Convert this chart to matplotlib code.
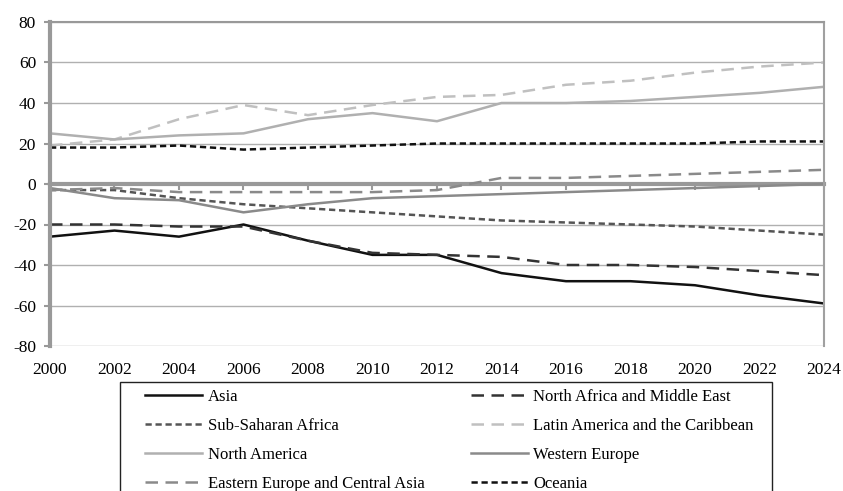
import matplotlib
matplotlib.use("Agg")
import matplotlib.pyplot as plt
from matplotlib.patches import Rectangle

plt.rcParams['font.family'] = ['Liberation Serif', 'DejaVu Serif']
plt.rcParams['axes.unicode_minus'] = False

years = [2000, 2002, 2004, 2006, 2008, 2010, 2012, 2014, 2016, 2018, 2020, 2022, 2024]

asia = [-26, -23, -26, -20, -28, -35, -35, -44, -48, -48, -50, -55, -59]
north_africa_me = [-20, -20, -21, -21, -28, -34, -35, -36, -40, -40, -41, -43, -45]
sub_saharan = [-3, -3, -7, -10, -12, -14, -16, -18, -19, -20, -21, -23, -25]
latin_america = [19, 22, 32, 39, 34, 39, 43, 44, 49, 51, 55, 58, 60]
north_america = [25, 22, 24, 25, 32, 35, 31, 40, 40, 41, 43, 45, 48]
western_europe = [-2, -7, -8, -14, -10, -7, -6, -5, -4, -3, -2, -1, 0]
eastern_europe = [-3, -2, -4, -4, -4, -4, -3, 3, 3, 4, 5, 6, 7]
oceania = [18, 18, 19, 17, 18, 19, 20, 20, 20, 20, 20, 21, 21]

fig = plt.figure(figsize=(8.43, 4.91), dpi=100)
ax = fig.add_axes([50/843, 1 - 346/491, 774/843, 324/491])

l_asia, = ax.plot(years, asia, color='#111111', lw=1.8, ls='-', label='Asia')
l_name, = ax.plot(years, north_africa_me, color='#333333', lw=1.8, ls=(0, (5, 3)), label='North Africa and Middle East')
l_ssa, = ax.plot(years, sub_saharan, color='#555555', lw=1.8, ls=(0, (2.5, 1.5)), label='Sub-Saharan Africa')
l_lat, = ax.plot(years, latin_america, color='#c0c0c0', lw=1.8, ls=(0, (5, 3)), label='Latin America and the Caribbean')
l_na, = ax.plot(years, north_america, color='#b0b0b0', lw=1.8, ls='-', label='North America')
l_we, = ax.plot(years, western_europe, color='#8a8a8a', lw=1.8, ls='-', label='Western Europe')
l_ee, = ax.plot(years, eastern_europe, color='#8a8a8a', lw=1.8, ls=(0, (5, 3)), label='Eastern Europe and Central Asia')
l_oc, = ax.plot(years, oceania, color='#111111', lw=1.8, ls=(0, (2.5, 1.5)), label='Oceania')

ax.set_xlim(2000, 2024)
ax.set_ylim(-80, 80)
ax.set_xticks(years)
ax.set_yticks(range(-80, 81, 20))
ax.grid(axis='y', color='#b0b0b0', lw=1)
ax.set_axisbelow(True)

ax.spines['top'].set_color('#999999')
ax.spines['top'].set_linewidth(1.5)
ax.spines['right'].set_color('#a0a0a0')
ax.spines['right'].set_linewidth(1.5)
ax.spines['left'].set_color('#999999')
ax.spines['left'].set_linewidth(3)
ax.spines['bottom'].set_position(('data', 0))
ax.spines['bottom'].set_color('#999999')
ax.spines['bottom'].set_linewidth(3)
ax.spines['bottom'].set_zorder(1.5)

ax.tick_params(axis='x', direction='out', length=4, width=1.5, color='#999999',
               pad=124, labelsize=12.5)
ax.tick_params(axis='y', direction='out', length=4, width=1.5, color='#999999',
               pad=6, labelsize=12.5)

# legend filled row by row like the original
order = [l_asia, l_ssa, l_na, l_ee, l_name, l_lat, l_we, l_oc]
leg = fig.legend(handles=order, loc='upper left', bbox_to_anchor=(145/843, 1 - 389/491), ncol=2,
                 fontsize=12, frameon=False, handlelength=3.4, handletextpad=0.35,
                 columnspacing=2.8, labelspacing=0.78, borderpad=0, borderaxespad=0)

fig.patches.append(Rectangle((120/843, -0.05), 652/843, 1.05 - 382/491,
                             transform=fig.transFigure, fill=False,
                             edgecolor='#222222', lw=1))

fig.savefig('out.png', dpi=100)
